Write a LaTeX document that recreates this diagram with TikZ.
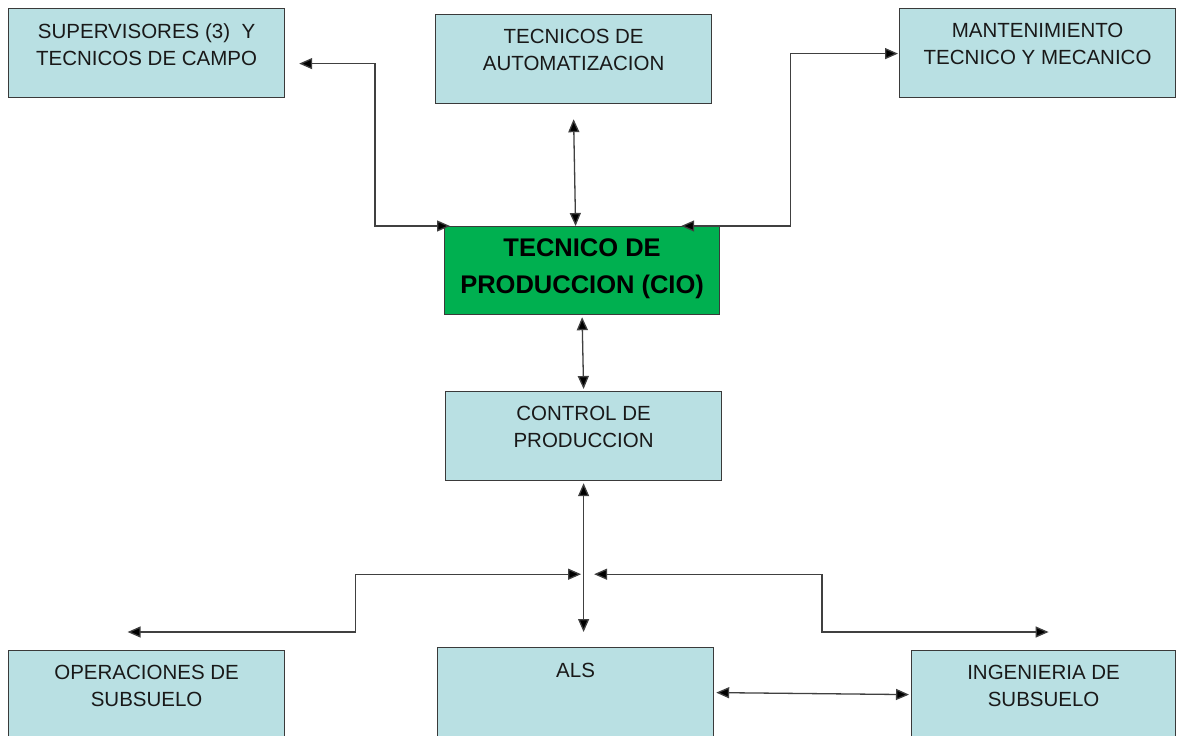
\documentclass[tikz,border=0pt]{standalone}
\usepackage{fontspec}
\setmainfont{Liberation Sans}
\usetikzlibrary{arrows.meta,calc}
\definecolor{boxblue}{HTML}{B9E0E3}
\definecolor{prodgreen}{HTML}{00B050}
\definecolor{edgegray}{HTML}{3A3A3A}
\begin{document}
\begin{tikzpicture}[x=1pt,y=-1pt,
  box/.style={draw=edgegray, line width=1.2pt, fill=boxblue, minimum width=276pt, minimum height=89pt, inner sep=0pt, anchor=north west},
  lbl/.style={align=center, inner sep=0pt, anchor=north, text=black!90, font=\fontsize{20.5}{27}\selectfont},
  boldlbl/.style={align=center, inner sep=0pt, anchor=north, font=\fontsize{25.5}{37}\selectfont\bfseries},
  con/.style={draw=black!75, line width=1.3pt, {Triangle[length=13pt,width=11pt,fill=black]}-{Triangle[length=13pt,width=11pt,fill=black]}}
]
\fill[white] (0,0) rectangle (1179,736);
\useasboundingbox (0,0) rectangle (1179,736);
\clip (0,0) rectangle (1179,736);

% boxes
\node[box] (sup) at (8,8) {};
\node[box] (auto) at (435,14) {};
\node[box] (mant) at (899,8) {};
\node[box, fill=prodgreen, minimum width=275pt, minimum height=88pt] (prod) at (444,226) {};
\node[box] (ctrl) at (445,391) {};
\node[box, minimum height=95pt] (oper) at (8,650) {};
\node[box, minimum height=95pt] (als) at (437,647) {};
\node[box, minimum width=264pt, minimum height=95pt] (ing) at (911,650) {};

% labels
\node[lbl] (tsup) at ($(sup.north)+(0,15)$) {SUPERVISORES (3)\ \ Y\\TECNICOS DE CAMPO};
\node[lbl] (tauto) at ($(auto.north)+(0,15)$) {TECNICOS DE\\AUTOMATIZACION};
\node[lbl] (tmant) at ($(mant.north)+(0,15)$) {MANTENIMIENTO\\TECNICO Y MECANICO};
\node[boldlbl] (tprod) at ($(prod.north)+(0,12)$) {TECNICO DE\\PRODUCCION (CIO)};
\node[lbl] (tctrl) at ($(ctrl.north)+(0,14.5)$) {CONTROL DE\\PRODUCCION};
\node[lbl] (toper) at ($(oper.north)+(0,15)$) {OPERACIONES DE\\SUBSUELO};
\node[lbl] (tals) at ($(als.north)+(0,16)$) {ALS};
\node[lbl] (ting) at ($(ing.north)+(0,15)$) {INGENIERIA DE\\SUBSUELO};

% connectors
\draw[con] ($(sup.east)+(14,10.5)$) -| ($(prod.north west)+(-69,0)$) -- ($(prod.north west)+(6,0)$);
\draw[con] ($(auto.south)+(0,15)$) -- ($(prod.north)+(-6.5,0)$);
\draw[con] ($(prod.north east)+(-39,0)$) -- ($(prod.north east)+(70,0)$) |- ($(mant.west)+(-1,0.5)$);
\draw[con] ($(prod.south)+(0,2)$) -- ($(ctrl.north)+(0,-2)$);
\coordinate (jn) at ($(ctrl.south)+(0,93)$);
\draw[con] ($(ctrl.south)+(0,2)$) -- ($(als.north)+(8,-15)$);
\draw[con] ($(oper.north)+(-19,-18)$) -- ++(228,0) |- ($(jn)+(-2.5,0)$);
\draw[con] ($(jn)+(10.5,0)$) -- ++(228,0) |- ($(ing.north)+(5,-18)$);
\draw[con] ($(als.east)+(2,-2.5)$) -- ($(ing.west)+(-2,-3.5)$);
\end{tikzpicture}
\end{document}
